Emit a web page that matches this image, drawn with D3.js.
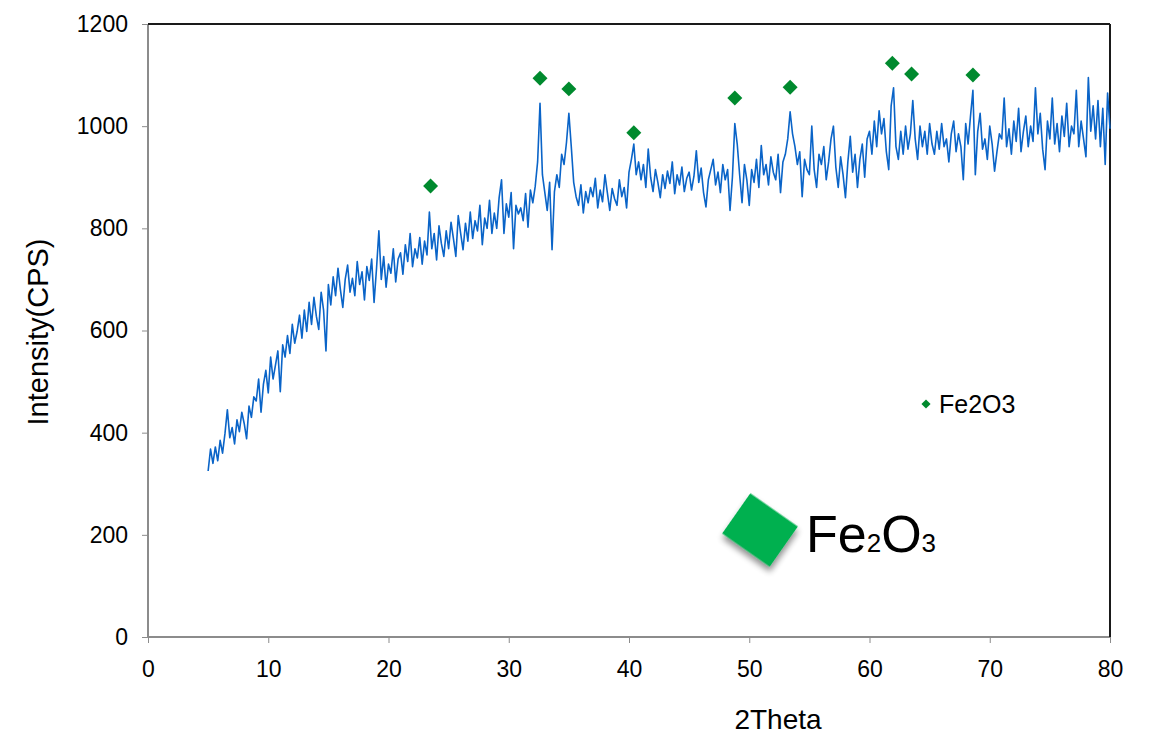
<!DOCTYPE html>
<html>
<head>
<meta charset="utf-8">
<script src="https://cdn.jsdelivr.net/npm/d3@7"></script>
<style>
  body { margin: 0; background: #fff; }
  text { font-family: "Liberation Sans", Arial, sans-serif; fill: #000; }
</style>
</head>
<body>
<div id="chart"></div>
<script>
// XRD scan, 2Theta 5..80 sampled every 0.2 deg
const twoThetaStart = 5;
const twoThetaStep = 0.2;
const intensity = [
  325, 368, 340, 372, 345, 385, 360, 398, 445, 390,
  410, 378, 425, 402, 440, 418, 388, 452, 430, 470,
  462, 505, 440, 495, 522, 478, 548, 505, 532, 560,
  480, 572, 548, 590, 555, 612, 575, 598, 630, 585,
  640, 598, 655, 612, 665, 628, 602, 675, 640, 560,
  690, 650, 705, 668, 722, 680, 645, 700, 728, 675,
  702, 668, 735, 690, 715, 660, 725, 698, 740, 655,
  720, 795, 700, 745, 685, 730, 712, 760, 695, 740,
  752, 710, 768, 735, 790, 725, 760, 742, 782, 730,
  775, 748, 832, 760, 790, 738, 805, 770, 745, 795,
  760, 812, 780, 745, 825, 790, 758, 810, 775, 832,
  780, 815, 795, 845, 768, 820, 800, 855, 790, 830,
  800, 860, 895, 790, 848, 822, 870, 760, 845, 828,
  840, 815, 868, 802, 875, 850, 882, 930, 1045, 905,
  870, 835, 890, 758, 872, 905, 880, 945, 925, 968,
  1025, 960, 890, 862, 845, 885, 830, 872, 850, 880,
  862, 898, 840, 875, 852, 905, 870, 835, 878, 858,
  845, 895, 862, 880, 840, 910, 935, 965, 905, 930,
  895, 925, 880, 955, 900, 872, 915, 890, 860, 905,
  878, 912, 888, 930, 868, 905, 885, 920, 872, 898,
  910, 875, 902, 952, 890, 918, 870, 842, 895, 915,
  935, 885, 910, 870, 925, 895, 915, 835, 900, 1005,
  965, 905, 850, 925, 895, 845, 915, 890, 935, 880,
  962, 905, 925, 885, 940, 910, 895, 945, 870, 930,
  945, 975, 1028, 985, 960, 925, 950, 862, 935, 915,
  905, 1000, 915, 880, 945, 925, 960, 895, 930, 975,
  1000, 920, 880, 940, 905, 860, 930, 980, 910, 945,
  880, 935, 965, 900, 975, 990, 945, 1010, 960, 1030,
  985, 1015, 950, 915, 1040, 1075, 960, 935, 990, 945,
  1000, 955, 985, 1050, 975, 935, 1000, 960, 990, 945,
  1005, 965, 945, 990, 955, 1005, 960, 975, 930, 985,
  1010, 950, 985, 960, 895, 1005, 965, 1020, 1070, 905,
  990, 1025, 955, 975, 935, 1000, 965, 912, 950, 985,
  975, 1055, 960, 995, 945, 1010, 970, 1035, 950, 990,
  1020, 960, 1000, 970, 1075, 985, 1025, 955, 915, 1010,
  975, 1055, 965, 1005, 950, 1020, 980, 1045, 960, 1000,
  985, 1070, 960, 1010, 975, 940, 1095, 990, 1040, 975,
  1050, 960, 1035, 925, 1065, 995
];

// Fe2O3 peak markers
const peakTheta = [23.5, 32.6, 35.0, 40.4, 48.8, 53.4, 61.9, 63.5, 68.6];
const peakIntensity = [883, 1094, 1073, 987, 1055, 1076, 1123, 1102, 1100];

const xTicks = [0, 10, 20, 30, 40, 50, 60, 70, 80];
const yTicks = [0, 200, 400, 600, 800, 1000, 1200];

const width = 1151, height = 737;
const plotLeft = 148, plotRight = 1110, plotTop = 24, plotBottom = 637;

const svg = d3.select("#chart").append("svg")
    .attr("width", width)
    .attr("height", height);

const defs = svg.append("defs");
const shadow = defs.append("filter").attr("id", "shadow")
    .attr("x", "-30%").attr("y", "-30%").attr("width", "160%").attr("height", "160%");
shadow.append("feGaussianBlur").attr("in", "SourceAlpha").attr("stdDeviation", 3);
shadow.append("feOffset").attr("dx", 3).attr("dy", 4).attr("result", "blur");
shadow.append("feComponentTransfer").append("feFuncA").attr("type", "linear").attr("slope", 0.45);
const merge = shadow.append("feMerge");
merge.append("feMergeNode");
merge.append("feMergeNode").attr("in", "SourceGraphic");

const x = d3.scaleLinear().domain([0, 80]).range([plotLeft, plotRight]);
const y = d3.scaleLinear().domain([0, 1200]).range([plotBottom, plotTop]);

// axes
svg.append("g")
    .attr("transform", `translate(${plotLeft},0)`)
    .call(d3.axisLeft(y).tickValues(yTicks).tickFormat(d3.format("d")).tickSize(6).tickPadding(14))
    .call(g => g.selectAll("line").attr("stroke", "#8c8c8c"))
    .call(g => g.select(".domain").remove())
    .call(g => g.selectAll("text").attr("font-size", 23).attr("font-family", "Liberation Sans, Arial"));

svg.append("g")
    .attr("transform", `translate(0,${plotBottom})`)
    .call(d3.axisBottom(x).tickValues(xTicks).tickSize(6).tickPadding(18))
    .call(g => g.selectAll("line").attr("stroke", "#8c8c8c"))
    .call(g => g.select(".domain").remove())
    .call(g => g.selectAll("text").attr("font-size", 23).attr("font-family", "Liberation Sans, Arial"));

// frame: grey axes, dark top/right
svg.append("line").attr("x1", plotLeft).attr("x2", plotLeft).attr("y1", plotTop).attr("y2", plotBottom)
    .attr("stroke", "#8c8c8c").attr("stroke-width", 2);
svg.append("line").attr("x1", plotLeft).attr("x2", plotRight).attr("y1", plotBottom).attr("y2", plotBottom)
    .attr("stroke", "#8c8c8c").attr("stroke-width", 2);
svg.append("line").attr("x1", plotLeft).attr("x2", plotRight).attr("y1", plotTop).attr("y2", plotTop)
    .attr("stroke", "#1a1a1a").attr("stroke-width", 2);
svg.append("line").attr("x1", plotRight).attr("x2", plotRight).attr("y1", plotTop).attr("y2", plotBottom)
    .attr("stroke", "#1a1a1a").attr("stroke-width", 2);

// scan line
const line = d3.line()
    .x((d, i) => x(twoThetaStart + i * twoThetaStep))
    .y(d => y(d));

svg.append("path")
    .datum(intensity)
    .attr("fill", "none")
    .attr("stroke", "#0a64c8")
    .attr("stroke-width", 1.6)
    .attr("stroke-linejoin", "round")
    .attr("d", line);

// peak markers
const diamond = d3.symbol().type(d3.symbolSquare);
svg.append("g").selectAll("path")
    .data(peakTheta)
    .enter()
    .append("path")
    .attr("d", diamond.size(112))
    .attr("transform", (d, i) => `translate(${x(d)},${y(peakIntensity[i])}) rotate(45)`)
    .attr("fill", "#008a2e");

// axis titles
svg.append("text")
    .attr("transform", `translate(48,332) rotate(-90)`)
    .attr("text-anchor", "middle")
    .attr("font-size", 29)
    .text("Intensity(CPS)");

svg.append("text")
    .attr("x", 778).attr("y", 729)
    .attr("text-anchor", "middle")
    .attr("font-size", 28)
    .text("2Theta");

// legend
svg.append("path")
    .attr("d", d3.symbol().type(d3.symbolSquare).size(42)())
    .attr("transform", "translate(926,404) rotate(45)")
    .attr("fill", "#008a2e");
svg.append("text")
    .attr("x", 939).attr("y", 413)
    .attr("font-size", 25)
    .text("Fe2O3");

// big annotation diamond with shadow
svg.append("rect")
    .attr("x", -29).attr("y", -24.5)
    .attr("width", 58).attr("height", 49)
    .attr("transform", "translate(760,530) rotate(35)")
    .attr("fill", "#00b050")
    .attr("filter", "url(#shadow)");

const big = svg.append("text")
    .attr("x", 806).attr("y", 552)
    .attr("font-size", 52);
big.append("tspan").text("Fe");
big.append("tspan").attr("font-size", 26).text("2");
big.append("tspan").text("O");
big.append("tspan").attr("font-size", 26).text("3");
</script>
</body>
</html>
